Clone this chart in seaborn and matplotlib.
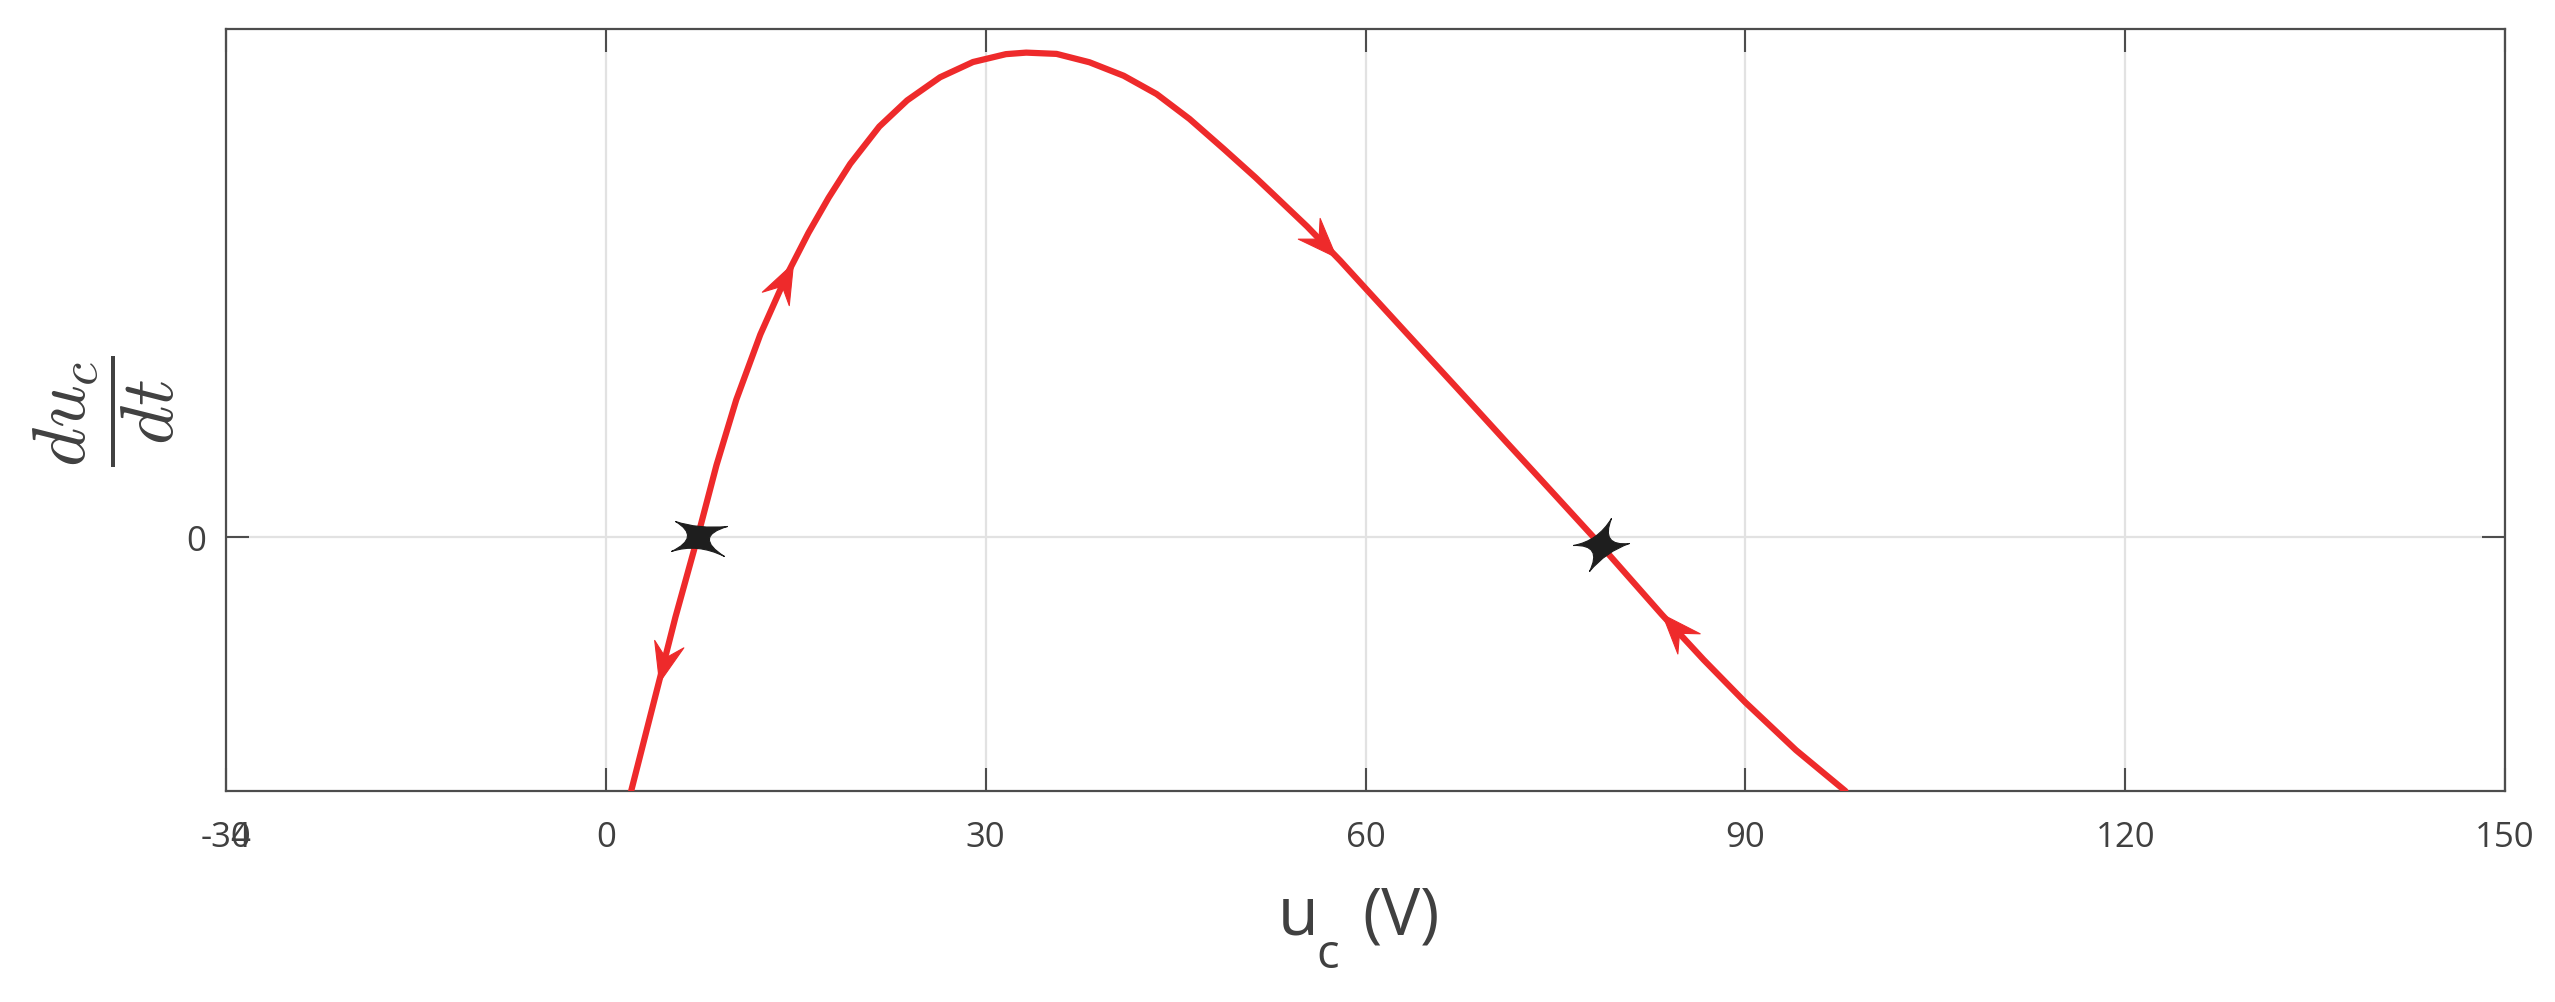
import numpy as np
import pandas as pd
import matplotlib
matplotlib.use("Agg")
import matplotlib.pyplot as plt
import seaborn as sns
from matplotlib.path import Path
from matplotlib.markers import MarkerStyle
from matplotlib.transforms import Affine2D

# ---------------- data ----------------
uc = [2.0, 4.2, 5.5, 7.25, 8.74, 10.3, 12.2, 14.3, 16.0, 17.6, 19.3, 21.6,
      23.8, 26.4, 29.0, 31.6, 33.2, 35.6, 38.2, 40.9, 43.5, 46.1, 48.8, 51.3,
      52.7, 55.4, 58.0, 60.0, 63.2, 67.2, 71.1, 73.5, 78.0, 83.4, 86.7, 90.0,
      94.0, 97.9]
dudt = [-1.0, -0.57, -0.315, 0.0, 0.283, 0.54, 0.797, 1.032, 1.197, 1.336, 1.469, 1.616,
        1.719, 1.810, 1.870, 1.901, 1.907, 1.902, 1.869, 1.816, 1.744, 1.646, 1.528, 1.416,
        1.35, 1.222, 1.088, 0.979, 0.805, 0.588, 0.375, 0.245, 0.0, -0.305, -0.483, -0.651,
        -0.839, -1.0]
eq_x = [7.3, 78.6]
eq_y = [0.0, -0.03]
arrow_x = [14.8, 4.2, 57.7, 83.4]
arrow_dir = [1, -1, 1, -1]
xticks = [-30, 0, 30, 60, 90, 120, 150]
xticklabels = ["-30", "0", "30", "60", "90", "120", "150"]
yticks = [0]
yticklabels = ["0"]
xlim = (-30, 150)
ylim = (-1, 2)

RED = "#ee2a2b"
TXT = "#404040"
AXC = "#4d4d4d"
GRID = "#e2e2e2"
STAR = "#1e1e1e"

W, H = 2555, 1003
sns.set_theme(style="white")
plt.rcParams["font.family"] = ["Open Sans", "DejaVu Sans"]

fig = plt.figure(figsize=(W / 100, H / 100), dpi=100)
ax = fig.add_axes([226 / W, 1 - 792 / H, (2505 - 226) / W, (792 - 30) / H])

df = pd.DataFrame({"uc": uc, "dudt": dudt})
sns.lineplot(data=df, x="uc", y="dudt", ax=ax, color=RED, linewidth=4.5,
             sort=False, estimator=None, zorder=3)
for ln in ax.lines:
    ln.set_linewidth(4.5)
    ln.set_solid_joinstyle("round")

ax.set_xlim(*xlim)
ax.set_ylim(*ylim)
ax.set_xticks(xticks)
ax.set_xticklabels(xticklabels)
ax.set_yticks(yticks)
ax.set_yticklabels(yticklabels)
ax.grid(True, color=GRID, lw=1.6, zorder=0)
ax.set_axisbelow(True)
for s in ax.spines.values():
    s.set_color(AXC)
    s.set_linewidth(1.6)
    s.set_visible(True)
ax.tick_params(axis="both", direction="in", length=16.5, width=1.5, color=AXC,
               labelcolor=TXT, labelsize=25, top=True, right=True,
               bottom=True, left=True)
ax.tick_params(axis="x", pad=21)
ax.tick_params(axis="y", pad=14)
ax.set_xlabel("")
ax.set_ylabel("")

# overlapping "4" glyph under the "-30" label
ax.annotate("4", xy=(-28.85, 0), xycoords=("data", "axes fraction"),
            xytext=(0, -21), textcoords="offset points", ha="center", va="top",
            fontsize=25, color=TXT)

# ---------------- arrowheads ----------------
arrow_path = Path([(0, 0), (-1, 0.38), (-0.64, 0), (-1, -0.38), (0, 0)],
                  [Path.MOVETO, Path.LINETO, Path.LINETO, Path.LINETO, Path.CLOSEPOLY])
for xa, d in zip(arrow_x, arrow_dir):
    ya = np.interp(xa, uc, dudt)
    x0, x1 = xa - 0.8, xa + 0.8
    p0 = ax.transData.transform((x0, np.interp(x0, uc, dudt)))
    p1 = ax.transData.transform((x1, np.interp(x1, uc, dudt)))
    ang = np.degrees(np.arctan2(p1[1] - p0[1], p1[0] - p0[0]))
    if d < 0:
        ang += 180
    m = MarkerStyle(arrow_path, transform=Affine2D().rotate_deg(ang))
    ax.plot([xa], [ya], marker=m, ms=57, mfc=RED, mec=RED, mew=0.8,
            ls="none", zorder=4)


# ---------------- equilibrium stars ----------------
def star_path(tips, r_in):
    tips = [np.array(t, float) for t in tips]
    angs = [np.arctan2(t[1], t[0]) % (2 * np.pi) for t in tips]
    order = np.argsort(angs)
    tips = [tips[i] for i in order]
    angs = [angs[i] for i in order]
    n = len(tips)
    verts = [tuple(tips[0])]
    codes = [Path.MOVETO]
    for i in range(n):
        a0 = angs[i]
        a1 = angs[(i + 1) % n]
        if a1 < a0:
            a1 += 2 * np.pi
        mid = (a0 + a1) / 2
        m = np.array([r_in * np.cos(mid), r_in * np.sin(mid)])
        c = 2 * m - 0.5 * (tips[i] + tips[(i + 1) % n])
        verts += [tuple(c), tuple(tips[(i + 1) % n])]
        codes += [Path.CURVE3, Path.CURVE3]
    verts.append(verts[0])
    codes.append(Path.CLOSEPOLY)
    return Path(verts, codes)


star_shapes = [
    star_path([(29, 11), (-23, 16), (-27, -14), (26, -19)], 11.0),
    star_path([(28, 2), (10, 27), (-28, 0), (-12, -26)], 11.0),
]
for (xs, ys), sp in zip(zip(eq_x, eq_y), star_shapes):
    mx = np.max(np.abs(sp.vertices))
    ax.plot([xs], [ys], marker=MarkerStyle(sp), ms=1.44 * mx, mfc=STAR,
            mec=STAR, mew=0.8, ls="none", zorder=5)

# ---------------- axis labels ----------------
fig.text(1278 / W, 1 - 935 / H, "u", fontsize=48, color=TXT, ha="left", va="baseline")
fig.text(1316 / W, 1 - 968 / H, "c", fontsize=34, color=TXT, ha="left", va="baseline")
fig.text(1362 / W, 1 - 935 / H, "(V)", fontsize=47, color=TXT, ha="left", va="baseline")

fig.text(104 / W, 1 - 411 / H, r"$\dfrac{du_c}{dt}$", fontsize=54, color=TXT,
         rotation=90, ha="center", va="center", math_fontfamily="cm")

fig.savefig("out.png", dpi=100, facecolor="white")
